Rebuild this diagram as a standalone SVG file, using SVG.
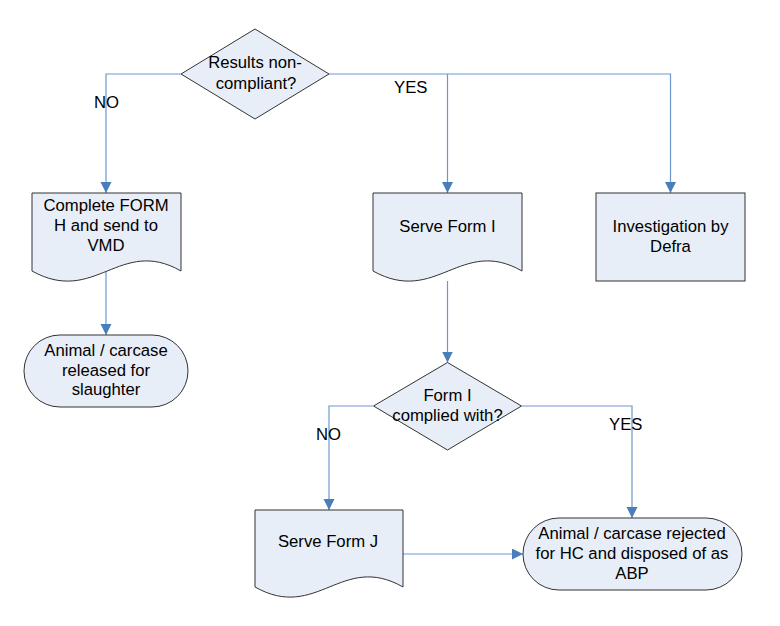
<svg xmlns="http://www.w3.org/2000/svg" width="780" height="626" viewBox="0 0 780 626">
<defs>
<marker id="arr" markerUnits="userSpaceOnUse" markerWidth="12" markerHeight="12" refX="11" refY="5.5" orient="auto">
<path d="M0,0 L11,5.5 L0,11 Z" fill="#4A7EBB"/>
</marker>
<style>
.shape{fill:#E8EEF7;stroke:#333333;stroke-width:1}
.con{fill:none;stroke:#6F97CF;stroke-width:1.2;marker-end:url(#arr)}
text{font-family:"Liberation Sans",Arial,sans-serif;font-size:16.7px;fill:#000}
.c{text-anchor:middle}
</style>
</defs>
<rect width="780" height="626" fill="#FFFFFF"/>
<g id="connectors">
<path class="con" d="M181,74 H106 V193"/>
<path class="con" d="M329,74 H670.5 V193"/>
<path class="con" d="M447.5,74 V193"/>
<path class="con" d="M106,271 V335"/>
<path class="con" d="M447.5,281 V362.5"/>
<path class="con" d="M373,406 H329 V510"/>
<path class="con" d="M522,406 H632 V518"/>
<path class="con" d="M403,554 H523"/>
</g>
<g id="labels">
<text x="94" y="108">NO</text>
<text x="394" y="93">YES</text>
<text x="316" y="440">NO</text>
<text x="609" y="430">YES</text>
</g>
<g id="decision1">
<path class="shape" d="M255,29 L329,74 L255,119 L181,74 Z"/>
<text class="c" x="255" y="67.5">Results non-</text>
<text class="c" x="256" y="89">compliant?</text>
</g>
<g id="formH">
<path class="shape" d="M32,193 H181 V271 C120,236 95,306 32,271 Z"/>
<text class="c" x="106" y="211">Complete FORM</text>
<text class="c" x="106" y="231">H and send to</text>
<text class="c" x="106" y="251">VMD</text>
</g>
<g id="formI">
<path class="shape" d="M373,193 H522 V271 C461,236 436,306 373,271 Z"/>
<text class="c" x="447.5" y="231.5">Serve Form I</text>
</g>
<g id="investigation">
<rect class="shape" x="596" y="193" width="149" height="88"/>
<text class="c" x="670.5" y="231.5">Investigation by</text>
<text class="c" x="670.5" y="251.5">Defra</text>
</g>
<g id="released">
<rect class="shape" x="24" y="335" width="164" height="72" rx="36" ry="36"/>
<text class="c" x="106" y="356">Animal / carcase</text>
<text class="c" x="106" y="375.5">released for</text>
<text class="c" x="106" y="395">slaughter</text>
</g>
<g id="decision2">
<path class="shape" d="M447.5,362.5 L521.5,406 L447.5,450 L373.5,406 Z"/>
<text class="c" x="447.5" y="401">Form I</text>
<text class="c" x="447.5" y="421">complied with?</text>
</g>
<g id="formJ">
<path class="shape" d="M255,510 H403 V587 C342,552 317,622 255,587 Z"/>
<text class="c" x="328" y="547">Serve Form J</text>
</g>
<g id="rejected">
<rect class="shape" x="523" y="518" width="219" height="72" rx="36" ry="36"/>
<text class="c" x="632" y="538.5">Animal / carcase rejected</text>
<text class="c" x="632" y="558.5">for HC and disposed of as</text>
<text class="c" x="632" y="579">ABP</text>
</g>
</svg>
